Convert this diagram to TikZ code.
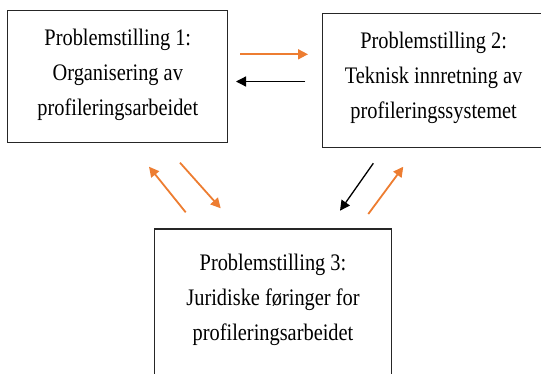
\documentclass[tikz,border=0pt]{standalone}
\usepackage{fontspec}
\setmainfont{Liberation Serif}[FakeStretch=0.86]
\usetikzlibrary{arrows.meta}
\definecolor{accent}{HTML}{ED7D31}
\tikzset{
  edge line/.style={draw=black!85, line width=1.3pt},
  frame/.style={edge line, inner sep=0pt},
  label text/.style={align=center, inner sep=0pt,
    font={\fontsize{23.7}{35}\selectfont}},
  link/.style={-{Triangle[length=10pt,width=10pt]}},
  warm/.style={link, draw=accent, fill=accent, line width=1.8pt},
  cold/.style={link, draw=black, fill=black, line width=1.3pt},
}
\begin{document}
\begin{tikzpicture}[x=1pt, y=-1pt]
  \useasboundingbox (0,0) rectangle (541,373);
  \clip (0,0) rectangle (541,373);

  % frames of the three research questions
  \node[frame, minimum width=220pt, minimum height=132pt] (b1) at (117.8,76.7) {};
  % the second frame runs off the right edge: only three sides are seen
  \node[inner sep=0pt, minimum width=218pt, minimum height=133pt] (b2) at (432,80.5) {};
  \draw[edge line] (b2.north east) -- (b2.north west) -- (b2.south west) -- (b2.south east);
  \node[frame, minimum width=237pt, minimum height=151pt] (b3) at (273,304.5) {};

  % their texts
  \node[label text] (t1) at (117.8,74.5)
    {Problemstilling 1:\\Organisering av\\profileringsarbeidet};
  \node[label text] (t2) at (433.6,77.8)
    {Problemstilling 2:\\Teknisk innretning av\\profileringssystemet};
  \node[label text] (t3) at (273,299.5)
    {Problemstilling 3:\\Juridiske føringer for\\profileringsarbeidet};

  % arrow end points
  \coordinate (p12s) at (240,54.3);   \coordinate (p12e) at (308,54.3);
  \coordinate (p21s) at (305,81.5);   \coordinate (p21e) at (236,81.5);
  \coordinate (p31s) at (185.7,212.3); \coordinate (p31e) at (149,166.7);
  \coordinate (p13s) at (180,162.7);  \coordinate (p13e) at (220.7,208.3);
  \coordinate (p23s) at (373.3,163.3); \coordinate (p23e) at (340,210.7);
  \coordinate (p32s) at (368.3,214);  \coordinate (p32e) at (403.3,166.7);

  \draw[warm] (p12s) -- (p12e);
  \draw[cold] (p21s) -- (p21e);
  \draw[warm] (p31s) -- (p31e);
  \draw[warm] (p13s) -- (p13e);
  \draw[cold] (p23s) -- (p23e);
  \draw[warm] (p32s) -- (p32e);
\end{tikzpicture}
\end{document}
